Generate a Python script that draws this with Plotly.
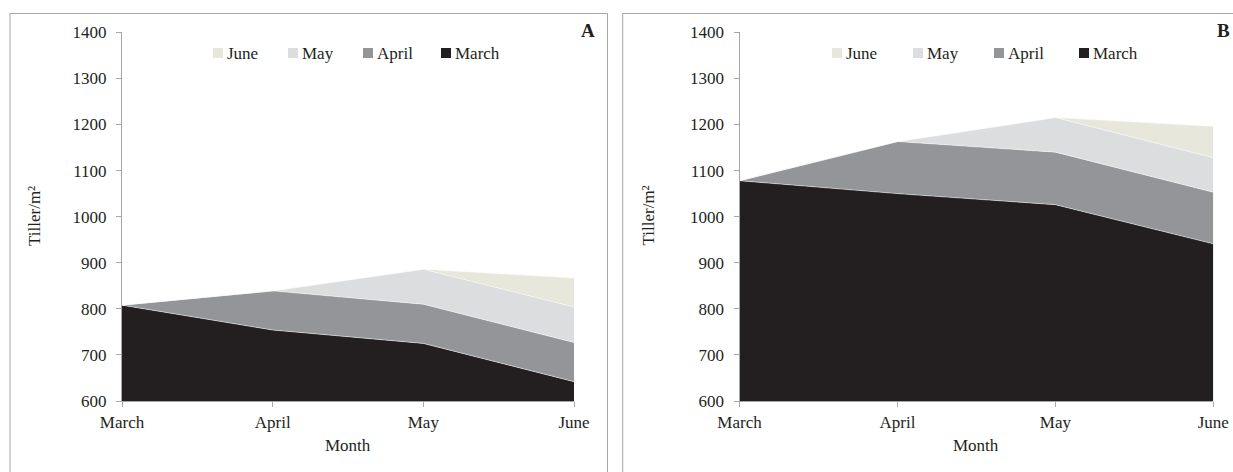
import plotly.graph_objects as go

# Sampling months (x categories) and the cohort each stacked layer belongs to
months = ["March", "April", "May", "June"]
cohorts = ["March", "April", "May", "June"]

# Tiller density (tillers per m²) contributed by each cohort, panel A
a_march = [808, 754, 725, 642]
a_april = [0, 85, 85, 85]
a_may = [0, 0, 76, 77]
a_june = [0, 0, 0, 63]

# Tiller density (tillers per m²) contributed by each cohort, panel B
b_march = [1078, 1050, 1026, 941]
b_april = [0, 113, 114, 112]
b_may = [0, 0, 75, 75]
b_june = [0, 0, 0, 68]

y_ticks = [600, 700, 800, 900, 1000, 1100, 1200, 1300, 1400]
panel_tags = ["A", "B"]
x_title = "Month"
y_title = "Tiller/m²"

colors = {"March": "#231f20", "April": "#939598", "May": "#dcdddf", "June": "#e8e7dc"}

W, H = 1233, 472
FONT = "Liberation Serif, Times New Roman, serif"
FS = 17
TXT = "#231f20"
GRID = "#a6a6a6"


def px(x):
    return x / W


def py(y):
    return 1 - y / H


fig = go.Figure()

panels = [
    ("x", "y", [a_march, a_april, a_may, a_june]),
    ("x2", "y2", [b_march, b_april, b_may, b_june]),
]
for xa, ya, series in panels:
    for name, vals in zip(cohorts, series):
        fig.add_trace(go.Scatter(
            x=months, y=vals, name=name, xaxis=xa, yaxis=ya,
            stackgroup="s" + xa, mode="lines",
            line=dict(color="rgba(255,255,255,0.8)", width=0.6),
            fillcolor=colors[name], showlegend=False,
            hovertemplate="%{x}: %{y}<extra>" + name + "</extra>",
        ))

# plot-area geometry in pixels: (left, right) and (top, bottom)
x_dom = {"A": (122, 574), "B": (739.5, 1213.3)}
y_top, y_bot = 32.3, 401

axis_common = dict(
    showline=True, linecolor=GRID, linewidth=1, ticks="outside",
    tickcolor=GRID, ticklen=5, showgrid=False, zeroline=False, automargin=False,
    tickfont=dict(family=FONT, size=FS, color=TXT),
)

layout = dict(
    width=W, height=H, margin=dict(l=0, r=0, t=0, b=0),
    paper_bgcolor="white", plot_bgcolor="white", showlegend=False,
    font=dict(family=FONT, size=FS, color=TXT),
)
for i, tag in enumerate(panel_tags):
    sfx = "" if i == 0 else str(i + 1)
    l, r = x_dom[tag]
    layout["xaxis" + sfx] = dict(
        axis_common, domain=[px(l), px(r)], type="category",
        categoryorder="array", categoryarray=months, range=[0, 3],
        anchor="y" + sfx, ticklabelstandoff=1,
    )
    layout["yaxis" + sfx] = dict(
        axis_common, domain=[py(y_bot), py(y_top)], range=[600, 1400],
        tickvals=y_ticks, anchor="x" + sfx, ticklabelstandoff=6,
    )
fig.update_layout(**layout)

# axis titles
y_title_x = {"A": 34, "B": 647.5}
for tag in panel_tags:
    l, r = x_dom[tag]
    fig.add_annotation(x=px((l + r) / 2), y=py(445), xref="paper", yref="paper",
                       text=x_title, showarrow=False, xanchor="center", yanchor="middle",
                       font=dict(family=FONT, size=FS, color=TXT))
    fig.add_annotation(x=px(y_title_x[tag]), y=py(216), xref="paper", yref="paper",
                       text=y_title, showarrow=False, textangle=-90,
                       xanchor="center", yanchor="middle",
                       font=dict(family=FONT, size=FS, color=TXT))

# panel frames
frames = {"A": (10, 607.5), "B": (622.7, 1245)}
for tag in panel_tags:
    x0, x1 = frames[tag]
    fig.add_shape(type="rect", xref="paper", yref="paper",
                  x0=px(x0), x1=px(x1), y0=py(H + 20), y1=py(13.5),
                  line=dict(color=GRID, width=1), fillcolor="rgba(0,0,0,0)", layer="below")

# panel letters
tag_pos = {"A": (597, "right"), "B": (1232, "right")}
for tag in panel_tags:
    x, anchor = tag_pos[tag]
    fig.add_annotation(x=px(x), y=py(30), xref="paper", yref="paper",
                       text="<b>" + tag + "</b>", showarrow=False,
                       xanchor=anchor, yanchor="middle",
                       font=dict(family=FONT, size=19, color=TXT))

# legends (reverse stacking order, like the stacked layers top to bottom)
legend_left = {"A": [213, 288, 363, 441], "B": [832, 913, 994, 1079]}
legend_y = 53
for tag in panel_tags:
    for name, left in zip(cohorts[::-1], legend_left[tag]):
        fig.add_shape(type="rect", xref="paper", yref="paper",
                      x0=px(left), x1=px(left + 10), y0=py(legend_y + 5), y1=py(legend_y - 5),
                      line=dict(width=0), fillcolor=colors[name])
        fig.add_annotation(x=px(left + 12), y=py(legend_y), xref="paper", yref="paper",
                           text=name, showarrow=False, xanchor="left", yanchor="middle",
                           font=dict(family=FONT, size=FS, color=TXT))

fig.write_html("out.html")
